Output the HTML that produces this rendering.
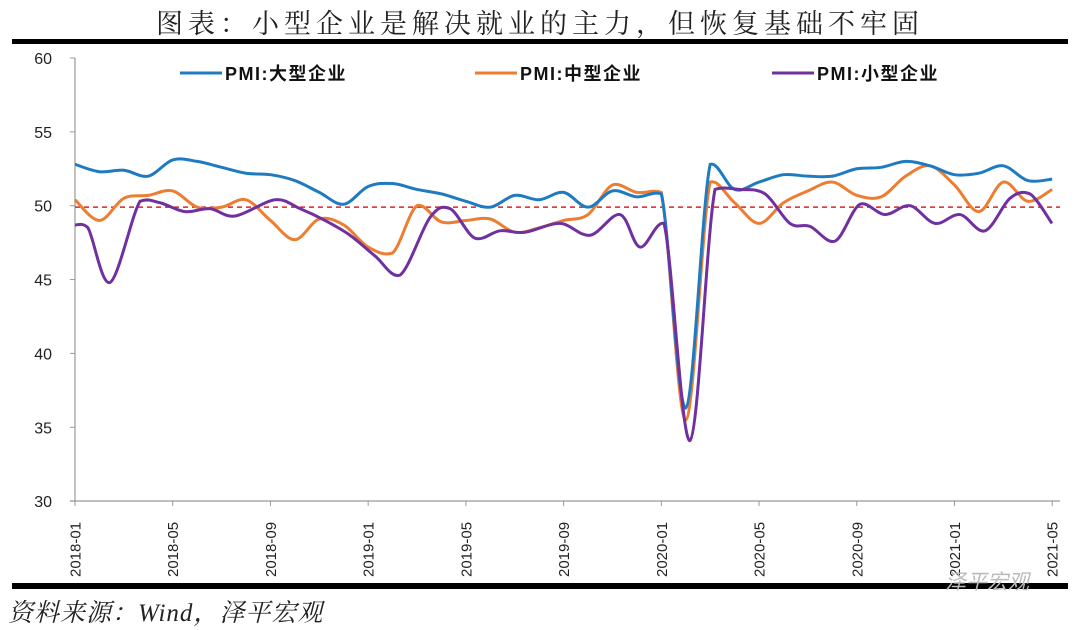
<!DOCTYPE html>
<html><head><meta charset="utf-8"><style>
body{margin:0;width:1080px;height:630px;background:#fff;overflow:hidden;position:relative;font-family:"Liberation Sans","Noto Sans CJK SC",sans-serif}
#t{position:absolute;left:0;width:1080px;top:2px;text-align:center;font-family:"Liberation Serif","Noto Serif CJK SC",serif;font-size:27px;letter-spacing:5px;color:#222}
#src{position:absolute;left:8px;top:593px;font-family:"Liberation Serif","Noto Serif CJK SC",serif;font-style:italic;font-size:25px;letter-spacing:1px;color:#222}
</style></head><body>
<div id="t">图表：小型企业是解决就业的主力，但恢复基础不牢固</div>
<svg id="s" width="1080" height="630" style="position:absolute;left:0;top:0"></svg>
<div id="src">资料来源：Wind，泽平宏观</div>
<script>
var s=document.getElementById('s'),h='';
function Y(v){return 58+(60-v)*14.77}
function X(i){return 75+24.43*i}
h+='<rect x="12" y="39" width="1056" height="5" fill="#000"/>';
h+='<rect x="12" y="583" width="1056" height="6" fill="#000"/>';
h+='<line x1="75" y1="58" x2="75" y2="501" stroke="#999" stroke-width="1.2"/>';
h+='<line x1="70" y1="501" x2="1060" y2="501" stroke="#999" stroke-width="1.2"/>';
for(var v=30;v<=60;v+=5){var y=Y(v);h+='<line x1="70" y1="'+y+'" x2="75" y2="'+y+'" stroke="#999"/>';h+='<text x="52" y="'+(y+6)+'" text-anchor="end" font-size="16" fill="#222">'+v+'</text>';}
var labs=['2018-01','2018-05','2018-09','2019-01','2019-05','2019-09','2020-01','2020-05','2020-09','2021-01','2021-05'];
for(var k=0;k<11;k++){var x=X(k*4);h+='<line x1="'+x+'" y1="501" x2="'+x+'" y2="506" stroke="#999"/>';h+='<text transform="translate('+(x+5.5)+',577) rotate(-90)" font-size="15" fill="#222">'+labs[k]+'</text>';}
h+='<line x1="75" y1="'+Y(49.9)+'" x2="1060" y2="'+Y(49.9)+'" stroke="#e02020" stroke-width="1.5" stroke-dasharray="5,4"/>';
function cl(v,a,b){var lo=Math.min(a,b),hi=Math.max(a,b);return Math.max(lo-3,Math.min(hi+3,v))}
function path(pts,c){var d='M'+pts[0][0]+','+pts[0][1];for(var i=0;i<pts.length-1;i++){var p0=pts[i-1]||pts[i],p1=pts[i],p2=pts[i+1],p3=pts[i+2]||p2;var t=6;
var c1y=cl(p1[1]+(p2[1]-p0[1])/t,p1[1],p2[1]),c2y=cl(p2[1]-(p3[1]-p1[1])/t,p1[1],p2[1]);
d+=' C'+(p1[0]+(p2[0]-p0[0])/t)+','+c1y+' '+(p2[0]-(p3[0]-p1[0])/t)+','+c2y+' '+p2[0]+','+p2[1];}return '<path d="'+d+'" fill="none" stroke="'+c+'" stroke-width="3"/>';}
function mon(a){return a.map(function(v,i){return [X(i),Y(v)]})}
var L=[52.8,52.3,52.4,52.0,53.1,53.0,52.6,52.2,52.1,51.7,50.9,50.1,51.3,51.5,51.1,50.8,50.3,49.9,50.7,50.4,50.9,49.9,51.0,50.6,50.8,36.3,52.8,51.1,51.6,52.1,52.0,52.0,52.5,52.6,53.0,52.7,52.1,52.2,52.7,51.7,51.8];
var M=[50.4,49.0,50.5,50.7,51.0,49.9,49.9,50.4,49.0,47.7,49.1,48.7,47.2,46.8,50.0,48.9,49.0,49.1,48.2,48.5,49.0,49.4,51.4,50.9,50.9,35.5,51.6,50.2,48.8,50.2,51.0,51.6,50.7,50.6,52.0,52.7,51.4,49.6,51.6,50.3,51.1];
var S=[[75,48.7],[88,48.5],[110,44.8],[140,50.3],[160,50.2],[185,49.6],[210,49.8],[235,49.3],[275,50.4],[300,49.8],[325,49.0],[350,48.0],[375,46.6],[400,45.3],[430,49.2],[450,49.8],[475,47.8],[500,48.3],[525,48.2],[560,48.8],[590,48.0],[620,49.4],[640,47.2],[664,48.8],[690,34.1],[715,51.1],[740,51.1],[765,50.8],[790,48.8],[810,48.6],[835,47.6],[860,50.1],[885,49.4],[910,50.0],[935,48.8],[960,49.4],[985,48.3],[1010,50.5],[1030,50.8],[1052,48.8]].map(function(p){return [p[0],Y(p[1])]});
h+=path(mon(M),'#ed7d31');h+=path(mon(L),'#1f7bc1');h+=path(S,'#7030a0');
var lg=[[180,'#1f7bc1','PMI:大型企业'],[475,'#ed7d31','PMI:中型企业'],[772,'#7030a0','PMI:小型企业']];
lg.forEach(function(g){h+='<line x1="'+g[0]+'" y1="73" x2="'+(g[0]+42)+'" y2="73" stroke="'+g[1]+'" stroke-width="3"/>';h+='<text x="'+(g[0]+45)+'" y="80" font-size="18" font-weight="bold" fill="#111" letter-spacing="1.5">'+g[2]+'</text>';});
h+='<text x="945" y="589" font-size="21" fill="#bbb" font-style="italic">泽平宏观</text>';
s.innerHTML=h;
</script>
</body></html>
